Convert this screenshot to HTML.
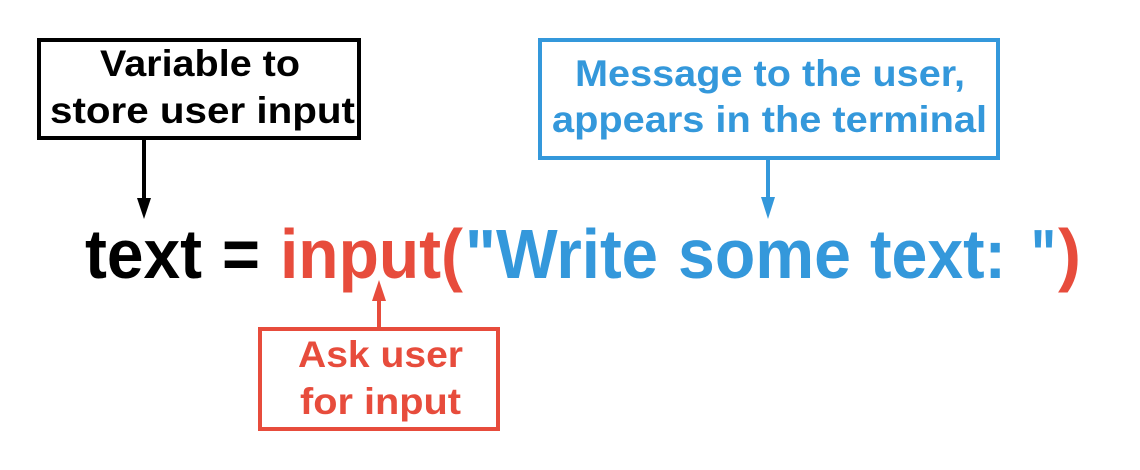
<!DOCTYPE html>
<html><head><style>html,body{margin:0;padding:0;background:#fff;}svg{display:block}</style></head>
<body>
<svg width="1140" height="470" viewBox="0 0 1140 470" xmlns="http://www.w3.org/2000/svg" font-family="Liberation Sans, Arial, sans-serif" font-weight="bold">
<rect x="39" y="40" width="320" height="98" fill="none" stroke="#000" stroke-width="4"/>
<text x="100" y="76" font-size="37" textLength="200" lengthAdjust="spacingAndGlyphs" fill="#000">Variable to</text>
<text x="50" y="123" font-size="37" textLength="305" lengthAdjust="spacingAndGlyphs" fill="#000">store user input</text>
<line x1="144" y1="140" x2="144" y2="200" stroke="#000" stroke-width="4"/>
<polygon points="137,198 151,198 144,219" fill="#000"/>
<rect x="540" y="40" width="458" height="118" fill="none" stroke="#3498db" stroke-width="4"/>
<text x="575" y="86" font-size="37" textLength="390" lengthAdjust="spacingAndGlyphs" fill="#3498db">Message to the user,</text>
<text x="552" y="132" font-size="37" textLength="435" lengthAdjust="spacingAndGlyphs" fill="#3498db">appears in the terminal</text>
<line x1="768" y1="160" x2="768" y2="200" stroke="#3498db" stroke-width="4"/>
<polygon points="761,197 775,197 768,219" fill="#3498db"/>
<g font-size="70">
<text x="85" y="278" textLength="117" lengthAdjust="spacingAndGlyphs" fill="#000">text</text>
<text x="222" y="278" textLength="38" lengthAdjust="spacingAndGlyphs" fill="#000">=</text>
<text x="280" y="278" textLength="183" lengthAdjust="spacingAndGlyphs" fill="#e74c3c">input(</text>
<text x="465" y="278" textLength="193" lengthAdjust="spacingAndGlyphs" fill="#3498db">"Write</text>
<text x="678" y="278" textLength="173" lengthAdjust="spacingAndGlyphs" fill="#3498db">some</text>
<text x="870" y="278" textLength="136" lengthAdjust="spacingAndGlyphs" fill="#3498db">text:</text>
<text x="1031" y="278" textLength="25" lengthAdjust="spacingAndGlyphs" fill="#3498db">"</text>
<text x="1058" y="278" textLength="23" lengthAdjust="spacingAndGlyphs" fill="#e74c3c">)</text>
</g>
<rect x="260" y="329" width="238" height="100" fill="none" stroke="#e74c3c" stroke-width="4"/>
<text x="298" y="367" font-size="37" textLength="165" lengthAdjust="spacingAndGlyphs" fill="#e74c3c">Ask user</text>
<text x="300" y="414" font-size="37" textLength="161" lengthAdjust="spacingAndGlyphs" fill="#e74c3c">for input</text>
<line x1="379" y1="327" x2="379" y2="298" stroke="#e74c3c" stroke-width="4"/>
<polygon points="372,301 386,301 379,280" fill="#e74c3c"/>
</svg>
</body></html>
